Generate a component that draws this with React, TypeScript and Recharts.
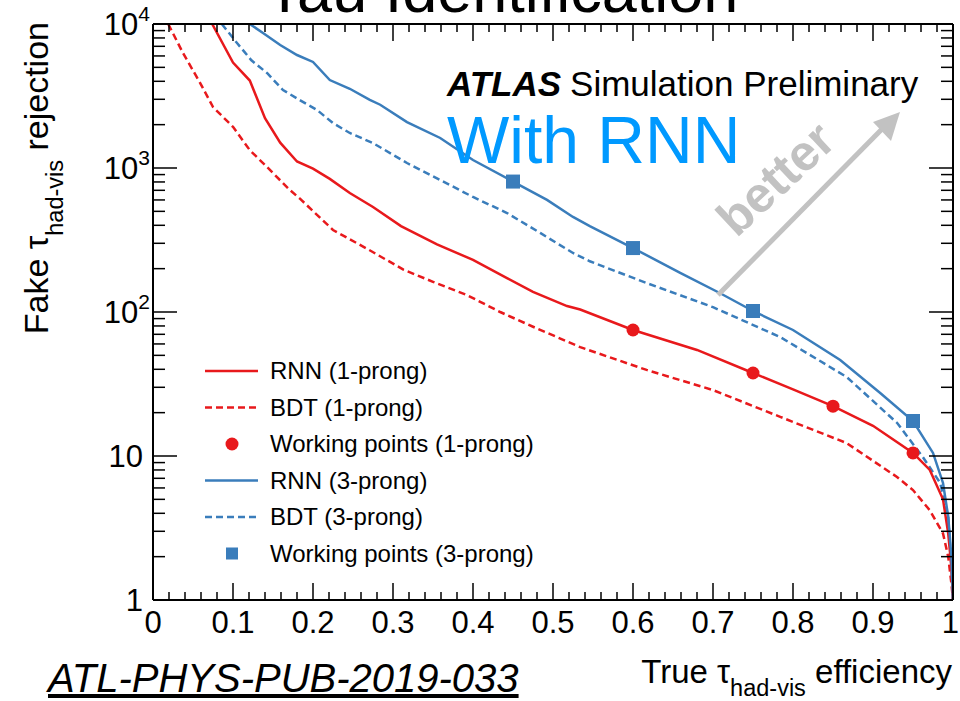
import React from 'react';
import { ComposedChart, Line, XAxis, YAxis } from 'recharts';

const FONT = '"Liberation Sans", Arial, Helvetica, sans-serif';
const RED = '#e8191c';
const BLUE = '#3a7dbb';
const GRAY = '#c2c2c2';

// RNN (1-prong)
const rnn1X = [0.074, 0.1, 0.121, 0.14, 0.159, 0.18, 0.2, 0.221, 0.246, 0.275, 0.31, 0.355, 0.4, 0.4425, 0.475, 0.5175, 0.534, 0.6, 0.68, 0.75, 0.8, 0.85, 0.9, 0.95, 0.971, 0.9875, 0.994, 0.998, 1.0];
const rnn1Y = [10000, 5400, 4050, 2220, 1500, 1110, 990, 840, 670, 536, 395, 295, 230, 172, 138, 110, 104, 75, 54.5, 37.7, 29, 22.2, 16.2, 10.5, 8.0, 5.0, 2.9, 1.7, 1];
// BDT (1-prong)
const bdt1X = [0.019, 0.0375, 0.059, 0.075, 0.1, 0.121, 0.1425, 0.171, 0.184, 0.225, 0.27, 0.313, 0.35, 0.3925, 0.434, 0.475, 0.534, 0.617, 0.7, 0.784, 0.867, 0.93, 0.95, 0.971, 0.9875, 0.994, 0.998, 1.0];
const bdt1Y = [10000, 6290, 3890, 2650, 1930, 1330, 1016, 704, 610, 371, 270, 197, 162, 131, 100, 79, 57, 39.6, 28.7, 18.7, 12.3, 7.15, 5.8, 4.2, 2.9, 2.0, 1.3, 1];
// RNN (3-prong)
const rnn3X = [0.121, 0.1375, 0.159, 0.18, 0.2, 0.221, 0.246, 0.271, 0.284, 0.3175, 0.359, 0.4, 0.45, 0.4925, 0.525, 0.546, 0.6, 0.659, 0.709, 0.75, 0.8, 0.859, 0.909, 0.95, 0.975, 0.9875, 0.994, 0.998, 1.0];
const rnn3Y = [10000, 8660, 7150, 6090, 5450, 4080, 3550, 2970, 2750, 2085, 1616, 1136, 805, 600, 457, 395, 278, 187, 135, 101.6, 75, 46.4, 27.4, 17.5, 10.5, 6.5, 3.8, 2.0, 1];
// BDT (3-prong)
const bdt3X = [0.086, 0.105, 0.123, 0.1425, 0.1625, 0.184, 0.205, 0.225, 0.246, 0.275, 0.3175, 0.359, 0.4, 0.4425, 0.484, 0.525, 0.546, 0.617, 0.7, 0.784, 0.867, 0.93, 0.9625, 0.984, 0.994, 0.998, 1.0];
const bdt3Y = [10000, 7380, 5600, 4570, 3480, 2950, 2530, 2050, 1750, 1490, 1083, 826, 629, 487, 354, 257, 225, 159, 108, 67, 35.4, 17, 9.8, 6.5, 3.77, 1.7, 1];
// Working points
const wp1X = [0.6, 0.75, 0.85, 0.95];
const wp1Y = [75, 37.7, 22.2, 10.5];
const wp3X = [0.45, 0.6, 0.75, 0.95];
const wp3Y = [805, 278, 101.6, 17.5];

// Axis ticks
const xTicks = [0, 0.02, 0.04, 0.06, 0.08, 0.1, 0.12, 0.14, 0.16, 0.18, 0.2, 0.22, 0.24, 0.26, 0.28, 0.3, 0.32, 0.34, 0.36, 0.38, 0.4, 0.42, 0.44, 0.46, 0.48, 0.5, 0.52, 0.54, 0.56, 0.58, 0.6, 0.62, 0.64, 0.66, 0.68, 0.7, 0.72, 0.74, 0.76, 0.78, 0.8, 0.82, 0.84, 0.86, 0.88, 0.9, 0.92, 0.94, 0.96, 0.98, 1];
const xLabels = ['0', '0.1', '0.2', '0.3', '0.4', '0.5', '0.6', '0.7', '0.8', '0.9', '1'];
const yTicks = [1, 2, 3, 4, 5, 6, 7, 8, 9, 10, 20, 30, 40, 50, 60, 70, 80, 90, 100, 200, 300, 400, 500, 600, 700, 800, 900, 1000, 2000, 3000, 4000, 5000, 6000, 7000, 8000, 9000, 10000];

const legendItems = [
  { label: 'RNN (1-prong)', color: RED, kind: 'line' },
  { label: 'BDT (1-prong)', color: RED, kind: 'dash' },
  { label: 'Working points (1-prong)', color: RED, kind: 'circle' },
  { label: 'RNN (3-prong)', color: BLUE, kind: 'line' },
  { label: 'BDT (3-prong)', color: BLUE, kind: 'dash' },
  { label: 'Working points (3-prong)', color: BLUE, kind: 'square' },
];

const zip = (xs: number[], ys: number[]) => xs.map((x, i) => ({ x, y: ys[i] }));

const isMajorX = (v: number) => Math.abs(v * 10 - Math.round(v * 10)) < 1e-6;
const isDecade = (v: number) => Math.abs(Math.log10(v) - Math.round(Math.log10(v))) < 1e-9;

const BottomTick = (p: any) => {
  const v = p.payload.value;
  const major = isMajorX(v);
  const last = Math.abs(v - 1) < 1e-9;
  return (
    <g>
      <line x1={p.x} x2={p.x} y1={600} y2={600 - (major ? 17 : 8)} stroke="#000" strokeWidth={1.5} />
      {major && (
        <text x={last ? 959 : p.x} y={633} textAnchor={last ? 'end' : 'middle'} fontSize={31} fontFamily={FONT} fill="#000">
          {xLabels[Math.round(v * 10)]}
        </text>
      )}
    </g>
  );
};

const TopTick = (p: any) => {
  const v = p.payload.value;
  const major = isMajorX(v);
  return <line x1={p.x} x2={p.x} y1={24} y2={24 + (major ? 17 : 8)} stroke="#000" strokeWidth={1.5} />;
};

const LeftTick = (p: any) => {
  const v = p.payload.value;
  const major = isDecade(v);
  const e = Math.round(Math.log10(v));
  let label: any = null;
  if (major) {
    if (e === 0 || e === 1) {
      label = (
        <text x={143} y={p.y + 11} textAnchor="end" fontSize={31} fontFamily={FONT} fill="#000">
          {e === 0 ? '1' : '10'}
        </text>
      );
    } else {
      label = (
        <text x={150} y={p.y + 11} textAnchor="end" fontSize={31} fontFamily={FONT} fill="#000">
          10<tspan fontSize={21} dy={-14}>{String(e)}</tspan>
        </text>
      );
    }
  }
  return (
    <g>
      <line x1={153} x2={153 + (major ? 24 : 12)} y1={p.y} y2={p.y} stroke="#000" strokeWidth={1.5} />
      {label}
    </g>
  );
};

const RightTick = (p: any) => {
  const v = p.payload.value;
  const major = isDecade(v);
  return <line x1={953} x2={953 - (major ? 24 : 12)} y1={p.y} y2={p.y} stroke="#000" strokeWidth={1.5} />;
};

const CircleDot = (p: any) => <circle key={`c${p.index}`} cx={p.cx} cy={p.cy} r={6.5} fill={RED} />;
const SquareDot = (p: any) => <rect key={`s${p.index}`} x={p.cx - 7} y={p.cy - 7} width={14} height={14} fill={BLUE} />;

const axisLine = { stroke: '#000', strokeWidth: 2 };

export default function App() {
  return (
    <div style={{ position: 'absolute', left: 0, top: 0, width: 960, height: 701, background: '#fff' }}>
      <ComposedChart width={960} height={701} margin={{ top: 4, right: 2, bottom: 81, left: 133 }}>
        <XAxis xAxisId="b" type="number" dataKey="x" domain={[0, 1]} ticks={xTicks} interval={0} height={20} tickSize={0} tickMargin={0} tickLine={false} tick={BottomTick} axisLine={axisLine} allowDataOverflow />
        <XAxis xAxisId="t" orientation="top" type="number" dataKey="x" domain={[0, 1]} ticks={xTicks} interval={0} height={20} tickSize={0} tickMargin={0} tickLine={false} tick={TopTick} axisLine={axisLine} allowDataOverflow />
        <YAxis yAxisId="l" type="number" scale="log" domain={[1, 10000]} ticks={yTicks} interval={0} width={20} tickSize={0} tickMargin={0} tickLine={false} tick={LeftTick} axisLine={axisLine} allowDataOverflow />
        <YAxis yAxisId="r" orientation="right" type="number" scale="log" domain={[1, 10000]} ticks={yTicks} interval={0} width={5} tickSize={0} tickMargin={0} tickLine={false} tick={RightTick} axisLine={axisLine} allowDataOverflow />
        <Line xAxisId="b" yAxisId="l" data={zip(bdt1X, bdt1Y)} dataKey="y" type="linear" stroke={RED} strokeWidth={2.5} strokeDasharray="7 4" dot={false} isAnimationActive={false} />
        <Line xAxisId="b" yAxisId="l" data={zip(bdt3X, bdt3Y)} dataKey="y" type="linear" stroke={BLUE} strokeWidth={2.5} strokeDasharray="7 4" dot={false} isAnimationActive={false} />
        <Line xAxisId="b" yAxisId="l" data={zip(rnn1X, rnn1Y)} dataKey="y" type="linear" stroke={RED} strokeWidth={2.5} dot={false} isAnimationActive={false} />
        <Line xAxisId="b" yAxisId="l" data={zip(rnn3X, rnn3Y)} dataKey="y" type="linear" stroke={BLUE} strokeWidth={2.5} dot={false} isAnimationActive={false} />
        <Line xAxisId="b" yAxisId="l" data={zip(wp1X, wp1Y)} dataKey="y" type="linear" stroke="none" strokeWidth={0} dot={CircleDot} isAnimationActive={false} />
        <Line xAxisId="b" yAxisId="l" data={zip(wp3X, wp3Y)} dataKey="y" type="linear" stroke="none" strokeWidth={0} dot={SquareDot} isAnimationActive={false} />
      </ComposedChart>
      <svg width={960} height={701} style={{ position: 'absolute', left: 0, top: 0, pointerEvents: 'none' }} fontFamily={FONT}>
        <text x={502} y={12} textAnchor="middle" fontSize={63} fill="#000">Tau Identification</text>
        <text x={447} y={96} fontSize={35} fill="#000">
          <tspan fontWeight="bold" fontStyle="italic">ATLAS</tspan>
          <tspan dx={9}>Simulation Preliminary</tspan>
        </text>
        <text x={447} y={163} fontSize={66} fill="#0099ff">With RNN</text>
        <line x1={718} y1={295} x2={884} y2={127} stroke={GRAY} strokeWidth={5} />
        <polygon points="900,112 873,122 891,141" fill={GRAY} />
        <text x={775} y={196} textAnchor="middle" fontSize={50} fontWeight="bold" fill={GRAY} transform="rotate(-43 775 178)">better</text>
        {legendItems.map((it, i) => {
          const cy = 371 + i * 36.5;
          return (
            <g key={it.label}>
              {it.kind === 'line' && <line x1={205} x2={258} y1={cy} y2={cy} stroke={it.color} strokeWidth={2.5} />}
              {it.kind === 'dash' && <line x1={205} x2={258} y1={cy} y2={cy} stroke={it.color} strokeWidth={2.5} strokeDasharray="7 4" />}
              {it.kind === 'circle' && <circle cx={232} cy={cy} r={6.5} fill={it.color} />}
              {it.kind === 'square' && <rect x={226} y={cy - 6} width={12} height={12} fill={it.color} />}
              <text x={270} y={cy + 8} fontSize={24} fill="#000">{it.label}</text>
            </g>
          );
        })}
        <text x={48} y={22} textAnchor="end" fontSize={34} fill="#000" transform="rotate(-90 48 22)">
          Fake τ<tspan fontSize={23.5} dy={15}>had-vis</tspan><tspan dy={-15}> rejection</tspan>
        </text>
        <text x={952} y={683} textAnchor="end" fontSize={33} fill="#000">
          True τ<tspan fontSize={23.5} dy={13}>had-vis</tspan><tspan dy={-13}> efficiency</tspan>
        </text>
        <text x={48} y={692} fontSize={40} fontStyle="italic" fill="#000" textDecoration="underline">ATL-PHYS-PUB-2019-033</text>
      </svg>
    </div>
  );
}
